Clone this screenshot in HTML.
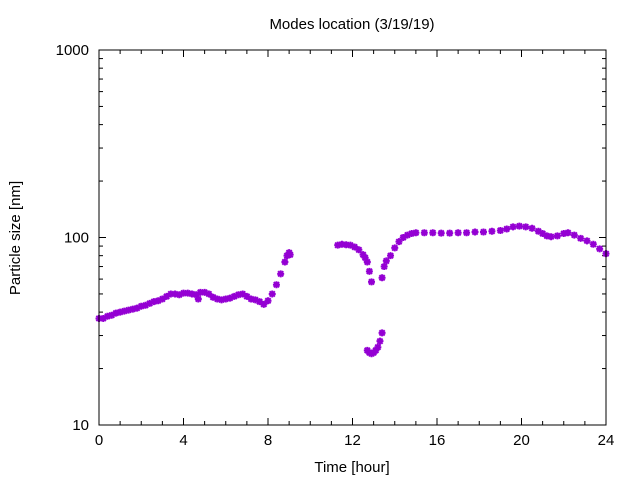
<!DOCTYPE html>
<html><head><meta charset="utf-8"><style>
html,body{margin:0;padding:0;background:#fff;}
svg{display:block;font-family:"Liberation Sans",sans-serif;}
</style></head><body>
<svg id="chart" width="640" height="480" viewBox="0 0 640 480">
<rect width="640" height="480" fill="#fff"/>
<text x="352" y="29" font-size="15" text-anchor="middle">Modes location (3/19/19)</text>
<text x="352" y="472" font-size="15" text-anchor="middle">Time [hour]</text>
<text transform="translate(20,238) rotate(-90)" font-size="15" text-anchor="middle">Particle size [nm]</text>
<g id="axes"></g>
<g id="points"></g>
<rect x="99" y="50" width="507" height="375" fill="none" stroke="#000" stroke-width="1"/>
</svg>
<script>
const xTicks=[0,4,8,12,16,20,24];
const yTicks=[10,100,1000];
const times=[0,0.2,0.4,0.6,0.8,1.0,1.2,1.4,1.6,1.8,2.0,2.2,2.4,2.6,2.8,3.0,3.2,3.4,3.6,3.8,4.0,4.2,4.4,4.6,4.7,4.8,5.0,5.2,5.4,5.6,5.8,6.0,6.2,6.4,6.6,6.8,7.0,7.2,7.4,7.6,7.8,8.0,8.2,8.4,8.6,8.8,8.9,9.0,9.05,
11.3,11.5,11.7,11.9,12.1,12.3,12.5,12.6,12.7,12.8,12.9,
12.7,12.8,12.9,13.0,13.1,13.2,13.3,13.4,
13.4,13.5,13.6,13.8,14.0,14.2,14.4,14.6,14.8,15.0,15.4,15.8,16.2,16.6,17.0,17.4,17.8,18.2,18.6,19.0,19.3,19.6,19.9,20.2,20.5,20.8,21.0,21.2,21.4,21.7,22.0,22.2,22.5,22.8,23.1,23.4,23.7,24.0];
const sizes=[37,37,38,38.5,39.5,40,40.5,41,41.5,42,43,43.5,44.5,45.5,46,47,48.5,50,50,49.5,50.5,50.5,50,49.5,47,51,51,50,48,47,46.5,47,47.5,48.5,49.5,50,48.5,47,46.5,45.5,44,46,50,56,64,74,80,83,81,
91,92,91.5,91,89,86,81,78,74,66,58,
25,24.3,24,24.3,25,26,28,31,
61,70,75,80,88,95,100,103,105,106,106,106,105.5,105.5,106,106,107,107,108,109,111,114,115,114,112,108,105,102,101,102,105,106,103,99,96,92,87,82];
const X0=99,X1=606,Y0=425,Y1=50;
const xs=t=>X0+(t/24)*(X1-X0);
const ys=v=>Y0-(Math.log10(v)-1)/2*(Y0-Y1);
const NS="http://www.w3.org/2000/svg";
const ax=document.getElementById('axes');
function line(x1,y1,x2,y2,name){const l=document.createElementNS(NS,'line');l.setAttribute('x1',x1);l.setAttribute('y1',y1);l.setAttribute('x2',x2);l.setAttribute('y2',y2);l.setAttribute('stroke','#000');l.setAttribute('stroke-width','1');


ax.appendChild(l);}
function text(x,y,s,anchor,name){const t=document.createElementNS(NS,'text');t.setAttribute('x',x);t.setAttribute('y',y);t.setAttribute('font-size','15');t.setAttribute('text-anchor',anchor);t.textContent=s;


ax.appendChild(t);}
xTicks.forEach(t=>{const x=xs(t);line(x,Y0,x,Y0-7,'x-tick');line(x,Y1,x,Y1+7,'x-tick-top');text(x,Y0+20,String(t),'middle','x-tick-label');});
for(let h=1;h<24;h++){if(h%4){const x=xs(h);line(x,Y0,x,Y0-4,'x-minor-tick');line(x,Y1,x,Y1+4,'x-minor-tick-top');}}
yTicks.forEach(v=>{const y=ys(v);line(X0,y,X0+7,y,'y-tick');line(X1,y,X1-7,y,'y-tick-right');text(X0-10,y+5,String(v),'end','y-tick-label');});
[10,100].forEach(d=>{for(let m=2;m<10;m++){const y=ys(d*m);line(X0,y,X0+4,y,'y-minor-tick');line(X1,y,X1-4,y,'y-minor-tick-right');}});
const pg=document.getElementById('points');
times.forEach((t,i)=>{const x=xs(t),y=ys(sizes[i]),r=3.5;
const p=document.createElementNS(NS,'path');
p.setAttribute('d',`M${x-r},${y}H${x+r}M${x},${y-r}V${y+r}M${x-r*0.75},${y-r*0.75}L${x+r*0.75},${y+r*0.75}M${x-r*0.75},${y+r*0.75}L${x+r*0.75},${y-r*0.75}`);
p.setAttribute('stroke','#9400d3');p.setAttribute('stroke-width','2');p.setAttribute('fill','none');


pg.appendChild(p);});
</script>
</body></html>
